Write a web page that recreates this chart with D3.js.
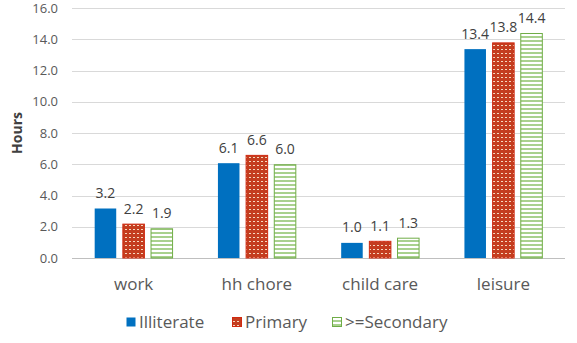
<!DOCTYPE html>
<html><head><meta charset="utf-8">
<script src="https://cdn.jsdelivr.net/npm/d3@7"></script>
<style>body{margin:0;background:#fff}svg{display:block}text{font-family:"Open Sans",sans-serif}</style>
</head><body><svg id="c" width="577" height="343"></svg>
<script>
const categories = ["work", "hh chore", "child care", "leisure"];
const seriesNames = ["Illiterate", "Primary", ">=Secondary"];
const illiterate = [3.2, 6.1, 1.0, 13.4];
const primary = [2.2, 6.6, 1.1, 13.8];
const secondary = [1.9, 6.0, 1.3, 14.4];
const yTicks = [0, 2, 4, 6, 8, 10, 12, 14, 16];

const series = [illiterate, primary, secondary];
const svg = d3.select("#c");
const W = 577, H = 343;
const m = {l: 72, r: 12, t: 8, b: 85};
const x = d3.scaleBand().domain(categories).range([m.l, W - m.r]).paddingInner(0.36).paddingOuter(0.18);
const xs = d3.scaleBand().domain(seriesNames).range([0, x.bandwidth()]).paddingInner(0.2);
const y = d3.scaleLinear().domain([0, 16]).range([H - m.b, m.t]);

const defs = svg.append("defs");
const pd = defs.append("pattern").attr("id", "dots").attr("patternUnits", "userSpaceOnUse").attr("width", 4).attr("height", 4);
pd.append("rect").attr("width", 4).attr("height", 4).attr("fill", "#c43d1f");
pd.append("rect").attr("x", 1).attr("y", 1).attr("width", 2).attr("height", 1).attr("fill", "#f7d9c0");
const ps = defs.append("pattern").attr("id", "stripes").attr("patternUnits", "userSpaceOnUse").attr("width", 4).attr("height", 4);
ps.append("rect").attr("width", 4).attr("height", 4).attr("fill", "#ffffff");
ps.append("rect").attr("y", 0).attr("width", 4).attr("height", 2).attr("fill", "#a9d18e");

const fills = ["#0070c0", "url(#dots)", "url(#stripes)"];
const strokes = ["#0070c0", "#d02a10", "#70ad47"];

// grid
svg.append("g").selectAll("line").data(yTicks).join("line")
  .attr("x1", m.l).attr("x2", W - m.r)
  .attr("y1", d => Math.round(y(d)) + 0.5).attr("y2", d => Math.round(y(d)) + 0.5)
  .attr("stroke", d => d === 0 ? "#bfbfbf" : "#d9d9d9").attr("stroke-width", 1);

// y tick labels
svg.append("g").selectAll("text").data(yTicks).join("text")
  .attr("x", 58).attr("y", d => y(d)).attr("dy", "0.35em")
  .attr("text-anchor", "end").attr("font-size", 13).attr("fill", "#595959")
  .text(d => d.toFixed(1));

svg.append("text").attr("transform", `translate(22,${(y(0) + y(16)) / 2}) rotate(-90)`)
  .attr("text-anchor", "middle").attr("font-size", 14).attr("font-weight", "bold").attr("fill", "#404040").text("Hours");

// bars
series.forEach((vals, si) => {
  const g = svg.append("g");
  g.selectAll("rect").data(vals).join("rect")
    .attr("x", (d, i) => x(categories[i]) + xs(seriesNames[si]) + 0.5)
    .attr("y", d => y(d) + 0.5)
    .attr("width", xs.bandwidth() - 1)
    .attr("height", d => y(0) - y(d) - 0.5)
    .attr("fill", fills[si]).attr("stroke", strokes[si]).attr("stroke-width", si === 0 ? 0 : 1);
  g.selectAll("text").data(vals).join("text")
    .attr("x", (d, i) => x(categories[i]) + xs(seriesNames[si]) + xs.bandwidth() / 2)
    .attr("y", d => y(d) - 10)
    .attr("text-anchor", "middle").attr("font-size", 14).attr("fill", "#404040")
    .text(d => d.toFixed(1));
});

// category labels
svg.append("g").selectAll("text").data(categories).join("text")
  .attr("x", d => x(d) + x.bandwidth() / 2).attr("y", 290)
  .attr("text-anchor", "middle").attr("font-size", 17).attr("fill", "#595959")
  .text(d => d);

// legend
const legX = [126, 232, 332];
const lg = svg.append("g");
seriesNames.forEach((n, i) => {
  lg.append("rect").attr("x", legX[i] + 0.5).attr("y", 317.5).attr("width", 9).attr("height", 9)
    .attr("fill", fills[i]).attr("stroke", strokes[i]).attr("stroke-width", i === 0 ? 0 : 1);
  lg.append("text").attr("x", legX[i] + 13).attr("y", 322).attr("dy", "0.35em")
    .attr("font-size", 17).attr("fill", "#595959").text(n);
});
</script></body></html>
